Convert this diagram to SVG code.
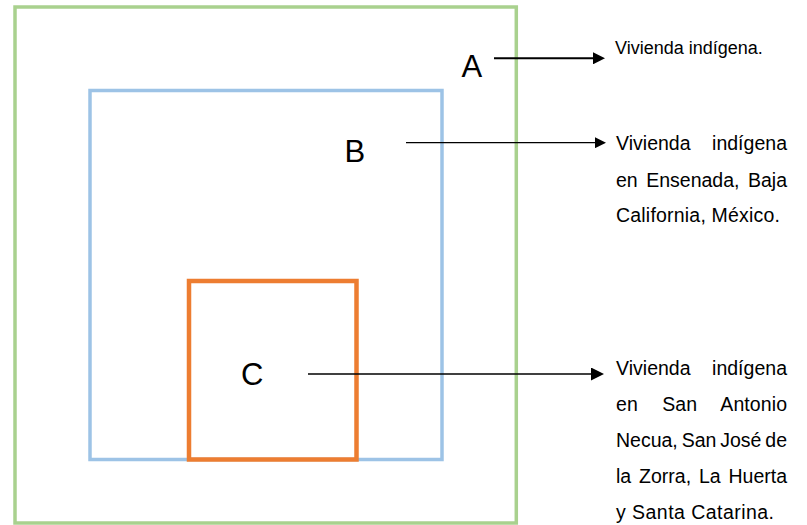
<svg xmlns="http://www.w3.org/2000/svg" width="807" height="525" viewBox="0 0 807 525">
<style>
.box{fill:none}
.lbl{font-family:"Liberation Sans",Arial,sans-serif;font-size:31px;fill:#000}
.txt{font-family:"Liberation Sans",Arial,sans-serif;font-size:19.5px;fill:#000}
.top{font-size:18px}
.con{stroke:#000;fill:none}
</style>
<defs>
<marker id="hA" viewBox="0 0 10 10" refX="0" refY="5" markerUnits="userSpaceOnUse" markerWidth="14" markerHeight="12" orient="auto"><path d="M0,0 L10,5 L0,10 z" fill="#000"/></marker>
<marker id="hB" viewBox="0 0 10 10" refX="0" refY="5" markerUnits="userSpaceOnUse" markerWidth="12" markerHeight="11" orient="auto"><path d="M0,0 L10,5 L0,10 z" fill="#000"/></marker>
<marker id="hC" viewBox="0 0 10 10" refX="0" refY="5" markerUnits="userSpaceOnUse" markerWidth="14" markerHeight="13" orient="auto"><path d="M0,0 L10,5 L0,10 z" fill="#000"/></marker>
</defs>
<rect width="807" height="525" fill="#fff"/>
<g id="nodeA">
<rect class="box" x="15" y="7" width="501.3" height="516" stroke="#A9D18E" stroke-width="3.5"/>
<text class="lbl" x="461.5" y="76.5">A</text>
</g>
<g id="nodeB">
<rect class="box" x="90" y="90.5" width="352" height="369" stroke="#9DC3E6" stroke-width="3.5"/>
<text class="lbl" x="344.5" y="162">B</text>
</g>
<g id="nodeC">
<rect class="box" x="189" y="281" width="167.5" height="178.5" stroke="#ED7D31" stroke-width="4.5"/>
<text class="lbl" x="241" y="384.5">C</text>
</g>
<g id="connectors">
<line class="con" x1="494" y1="58.3" x2="593" y2="58.3" stroke-width="2" marker-end="url(#hA)"/>
<line class="con" x1="406" y1="142.7" x2="595" y2="142.7" stroke-width="1.3" marker-end="url(#hB)"/>
<line class="con" x1="308" y1="374" x2="591" y2="374" stroke-width="1.3" marker-end="url(#hC)"/>
</g>
<g id="labelA">
<text class="txt top" x="615" y="53.5">Vivienda indígena.</text>
</g>
<g id="labelB">
<text class="txt" x="616" y="150" word-spacing="16" textLength="171" lengthAdjust="spacing">Vivienda indígena</text>
<text class="txt" x="616" y="186.5" word-spacing="3.1" textLength="171" lengthAdjust="spacing">en Ensenada, Baja</text>
<text class="txt" x="616" y="222" textLength="164" lengthAdjust="spacing">California, México.</text>
</g>
<g id="labelC">
<text class="txt" x="616" y="375" word-spacing="16" textLength="171" lengthAdjust="spacing">Vivienda indígena</text>
<text class="txt" x="616" y="411" word-spacing="18.8" textLength="171" lengthAdjust="spacing">en San Antonio</text>
<text class="txt" x="616" y="447" word-spacing="-1.5" textLength="171" lengthAdjust="spacing">Necua, San José de</text>
<text class="txt" x="616" y="483" word-spacing="2.45" textLength="171" lengthAdjust="spacing">la Zorra, La Huerta</text>
<text class="txt" x="616" y="518.5" textLength="158" lengthAdjust="spacing">y Santa Catarina.</text>
</g>
</svg>
